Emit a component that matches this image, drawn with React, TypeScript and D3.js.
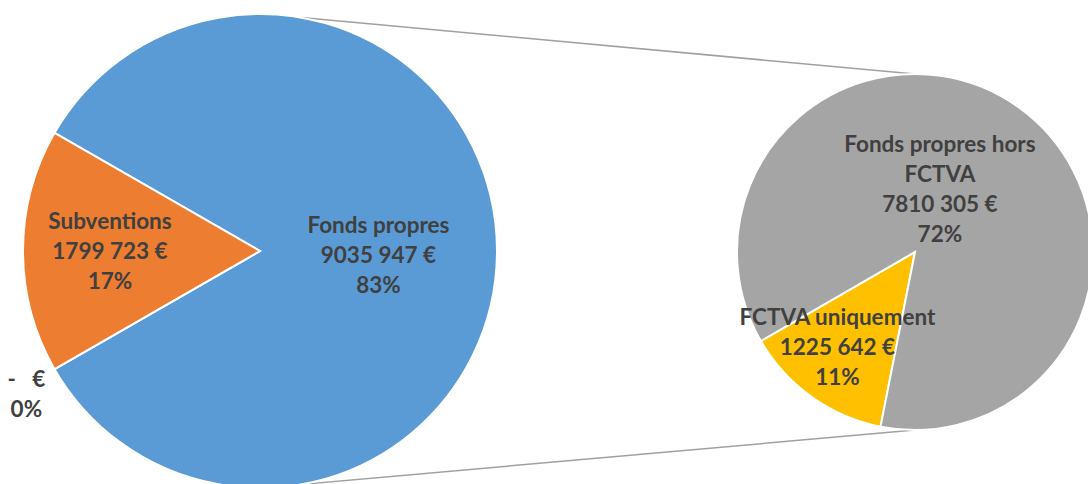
import React, { useEffect, useRef } from "react";
import * as d3 from "d3";

// main pie: Fonds propres is the aggregate split out into the second pie
const mainCategories = ["Fonds propres", "-", "Subventions"];
const mainValues = [9035947, 0, 1799723];
const mainColors = ["#5B9BD5", "#A5A5A5", "#ED7D31"];

const subCategories = ["FCTVA uniquement", "Fonds propres hors FCTVA"];
const subValues = [1225642, 7810305];
const subColors = ["#FFC000", "#A5A5A5"];

const W = 1088;
const H = 484;
const deg = Math.PI / 180;

function fmtEuro(v: number) {
  const n = Math.round(v);
  if (n === 0) return "-   €";
  if (n < 1000) return `${n} €`;
  return `${Math.floor(n / 1000)} ${String(n % 1000).padStart(3, "0")} €`;
}

function wrap(name: string, max = 18) {
  const words = name.split(" ");
  const lines: string[] = [];
  let cur = "";
  words.forEach((w) => {
    const t = cur ? cur + " " + w : w;
    if (t.length > max && cur) {
      lines.push(cur);
      cur = w;
    } else cur = t;
  });
  if (cur) lines.push(cur);
  return lines;
}

export default function App() {
  const svgRef = useRef<SVGSVGElement>(null);

  useEffect(() => {
    document.body.style.margin = "0";
    const svg = d3.select(svgRef.current);
    svg.selectAll("*").remove();

    const total = d3.sum(mainValues);
    const c1 = { x: 260, y: 251, r: 237 };
    const c2 = { x: 915, y: 252, r: 178 };

    // connector lines (drawn first, behind pies)
    const pt = (c: typeof c1, a: number) => [c.x + c.r * Math.sin(a * deg), c.y - c.r * Math.cos(a * deg)];
    const links = [
      [pt(c1, 10), pt(c2, 0)],
      [pt(c1, 170), pt(c2, 180)],
    ];
    svg
      .selectAll(".link")
      .data(links)
      .enter()
      .append("line")
      .attr("x1", (d) => d[0][0])
      .attr("y1", (d) => d[0][1])
      .attr("x2", (d) => d[1][0])
      .attr("y2", (d) => d[1][1])
      .attr("stroke", "#A0A0A0")
      .attr("stroke-width", 1.5);

    /* ---------------- main pie ---------------- */
    const blueSpan = (mainValues[0] / total) * 2 * Math.PI;
    const mainStart = Math.PI / 2 - blueSpan / 2;
    const mainPie = d3
      .pie<number>()
      .sort(null)
      .value((d) => d)
      .startAngle(mainStart)
      .endAngle(mainStart + 2 * Math.PI);
    const mainArcs = mainPie(mainValues);
    const arc1 = d3.arc<any>().innerRadius(0).outerRadius(c1.r);

    const g1 = svg.append("g").attr("transform", `translate(${c1.x},${c1.y})`);
    g1.selectAll("path")
      .data(mainArcs)
      .enter()
      .append("path")
      .attr("d", arc1)
      .attr("fill", (d, i) => mainColors[i])
      .attr("stroke", "#fff")
      .attr("stroke-width", 2);

    /* ---------------- secondary pie ---------------- */
    const subTotal = d3.sum(subValues);
    const yellowSpan = (subValues[0] / subTotal) * 2 * Math.PI;
    const subStart = 240 * deg - yellowSpan;
    const subPie = d3
      .pie<number>()
      .sort(null)
      .value((d) => d)
      .startAngle(subStart)
      .endAngle(subStart + 2 * Math.PI);
    const subArcs = subPie(subValues);
    const arc2 = d3.arc<any>().innerRadius(0).outerRadius(c2.r);

    const g2 = svg.append("g").attr("transform", `translate(${c2.x},${c2.y})`);
    g2.selectAll("path")
      .data(subArcs)
      .enter()
      .append("path")
      .attr("d", arc2)
      .attr("fill", (d, i) => subColors[i])
      .attr("stroke", "#fff")
      .attr("stroke-width", 2);

    /* ---------------- labels ---------------- */
    const drawLabel = (
      g: any,
      a: any,
      r: number,
      k: number,
      shift: number,
      name: string,
      value: number
    ) => {
      const ang = (a.startAngle + a.endAngle) / 2 + shift * deg;
      const x = Math.sin(ang) * r * k;
      const y = -Math.cos(ang) * r * k;
      const lines =
        value === 0
          ? [fmtEuro(value), "0%"]
          : [...wrap(name), fmtEuro(value), `${Math.round((value / total) * 100)}%`];
      const t = g
        .append("text")
        .attr("text-anchor", "middle")
        .attr("fill", "#404040")
        .style("font-family", "Lato, 'Open Sans', sans-serif")
        .style("font-weight", "bold")
        .style("font-size", "22.5px")
        .style("white-space", "pre");
      lines.forEach((l, i) => {
        t.append("tspan")
          .attr("x", x)
          .attr("y", y + (i - (lines.length - 1) / 2) * 30)
          .attr("dy", "0.36em")
          .text(l);
      });
    };

    const mainPlace = [
      [0.5, 2],
      [1.155, -1.5],
      [0.633, 0],
    ];
    mainArcs.forEach((a, i) =>
      drawLabel(g1, a, c1.r, mainPlace[i][0], mainPlace[i][1], mainCategories[i], mainValues[i])
    );
    const subPlace = [
      [0.69, 3.6],
      [0.38, -14],
    ];
    subArcs.forEach((a, i) =>
      drawLabel(g2, a, c2.r, subPlace[i][0], subPlace[i][1], subCategories[i], subValues[i])
    );
  }, []);

  return (
    <div style={{ width: W, height: H, overflow: "hidden", background: "#fff" }}>
      <svg ref={svgRef} width={W} height={H} style={{ display: "block" }} />
    </div>
  );
}
